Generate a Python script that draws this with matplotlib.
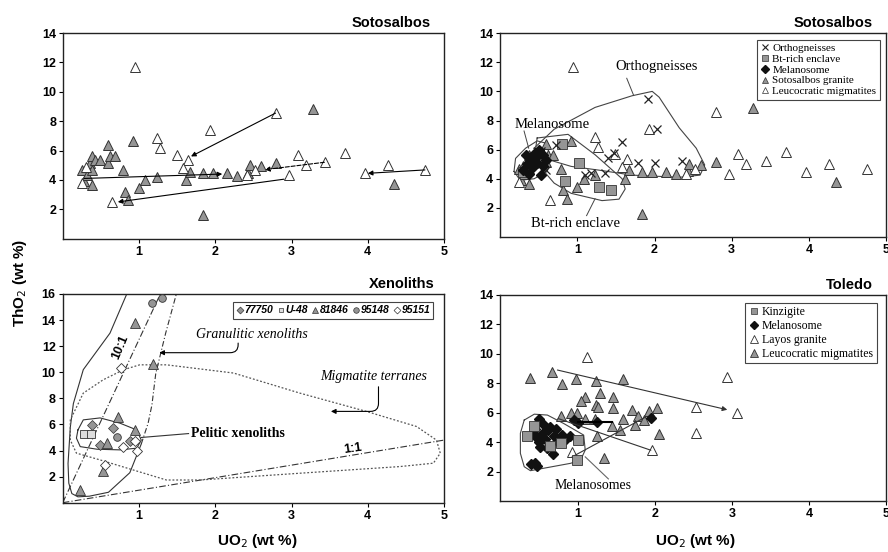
import matplotlib.pyplot as plt
from matplotlib.lines import Line2D

plt.rcParams['font.family'] = ['Liberation Sans', 'DejaVu Sans']

# ---- Sotosalbos: granite (grey) and leucocratic migmatites (white)
granite_u = [0.25, 0.27, 0.31, 0.35, 0.38, 0.38, 0.38, 0.42, 0.49, 0.59, 0.59, 0.62, 0.68,
             0.79, 0.81, 0.86, 0.92, 1.00, 1.08, 1.23, 1.62, 1.67, 1.84, 1.84, 1.97, 2.15,
             2.28, 2.43, 2.45, 2.60, 2.80, 3.28, 4.35]
granite_t = [4.70, 3.90, 4.35, 5.15, 5.60, 4.70, 3.67, 5.35, 5.37, 6.40, 5.15, 5.60, 5.60,
             4.69, 3.21, 2.64, 6.62, 3.44, 4.00, 4.23, 4.00, 4.57, 4.45, 1.60, 4.46, 4.46,
             4.30, 4.50, 5.00, 4.95, 5.18, 8.85, 3.75]
leuco_u = [0.95, 2.79, 1.93, 1.23, 1.27, 1.49, 1.64, 1.58, 0.64, 0.25, 3.08, 3.19, 3.44,
           3.70, 4.26, 3.96, 4.75, 2.41, 2.52, 2.96, 0.30]
leuco_t = [11.7, 8.55, 7.42, 6.85, 6.17, 5.71, 5.37, 4.80, 2.53, 3.78, 5.70, 5.00, 5.20,
           5.86, 5.00, 4.45, 4.70, 4.34, 4.70, 4.35, 4.90]

# arrows (start u, start t, end u, end t, dashed)
soto_arrows = [(2.79, 8.55, 1.68, 5.60, False),
               (0.28, 4.10, 2.09, 4.40, False),
               (2.90, 4.05, 0.72, 2.50, False),
               (3.43, 5.20, 2.65, 4.70, True),
               (4.75, 4.68, 4.00, 4.45, False)]

# ---- Sotosalbos: orthogneisses, Bt-rich enclave, melanosome
ortho_u = [1.91, 2.03, 1.58, 1.40, 1.47, 1.36, 1.78, 2.00, 2.35, 1.10, 1.18, 0.39, 0.53, 0.59, 0.72]
ortho_t = [9.50, 7.45, 6.50, 5.45, 5.80, 4.40, 5.10, 5.10, 5.20, 4.25, 4.40, 5.40, 5.90, 4.60, 6.30]
encl_u = [0.80, 1.02, 0.84, 1.28, 1.43, 0.29]
encl_t = [6.40, 5.10, 3.85, 3.45, 3.20, 4.45]
mel_u = [0.30, 0.35, 0.40, 0.45, 0.50, 0.55, 0.48, 0.42, 0.56, 0.38, 0.53, 0.60, 0.33, 0.46]
mel_t = [4.60, 5.00, 5.40, 5.80, 6.00, 5.60, 5.10, 4.80, 4.90, 4.30, 4.25, 5.30, 5.60, 5.50]

ortho_field_u = [0.44, 0.70, 1.23, 1.71, 1.97, 2.06, 2.32, 2.54, 2.65, 2.59, 2.32, 1.71, 1.27, 0.92, 0.57, 0.44]
ortho_field_t = [6.1, 7.4, 8.9, 9.7, 10.0, 9.6, 7.5, 6.1, 4.95, 4.25, 4.1, 4.25, 4.6, 4.85, 5.4, 6.1]
encl_field_u = [0.48, 0.88, 1.23, 1.58, 1.62, 1.54, 1.32, 0.92, 0.70, 0.57, 0.44, 0.48]
encl_field_t = [6.8, 7.05, 5.65, 4.0, 3.3, 2.6, 2.5, 3.0, 3.7, 4.5, 5.4, 6.8]
mel_field_u = [0.18, 0.20, 0.33, 0.48, 0.59, 0.66, 0.61, 0.44, 0.26, 0.18]
mel_field_t = [4.5, 5.4, 6.1, 6.6, 6.45, 5.4, 4.5, 4.0, 3.9, 4.5]

# ---- Xenoliths
s77750_u = [0.38, 0.66, 0.88, 0.49]
s77750_t = [5.97, 5.70, 4.70, 4.43]
u48_u = [0.28, 0.37]
u48_t = [5.30, 5.30]
s81846_u = [0.95, 1.19, 0.73, 0.95, 0.58, 0.53, 0.23]
s81846_t = [13.8, 10.6, 6.60, 5.60, 4.56, 2.40, 1.00]
s95148_u = [1.17, 1.30, 0.71]
s95148_t = [15.3, 15.7, 5.05]
s95151_u = [0.77, 0.79, 0.97, 0.55, 0.95]
s95151_t = [10.3, 4.30, 4.00, 2.90, 4.75]

gran_left_u = [0.84, 0.62, 0.27, 0.14, 0.10, 0.07, 0.08, 0.12, 0.20, 0.35, 0.60, 0.88, 1.03]
gran_left_t = [16.0, 13.0, 10.2, 7.6, 5.8, 3.0, 1.5, 0.7, 0.45, 0.5, 0.8, 2.3, 4.5]
gran_right_u = [1.03, 1.12, 1.17, 1.22, 1.35, 1.49]
gran_right_t = [4.5, 6.1, 7.5, 9.9, 13.0, 16.0]
migm_u = [0.80, 1.01, 1.36, 2.24, 3.11, 3.98, 4.64, 4.90, 4.95, 4.86, 4.42, 3.11, 1.80, 1.36,
          0.93, 0.49, 0.18, 0.10, 0.10, 0.27, 0.53, 0.80]
migm_t = [10.2, 10.57, 10.57, 9.94, 8.4, 7.0, 5.84, 4.8, 3.8, 3.03, 2.77, 2.26, 1.74, 1.74,
          2.5, 3.28, 3.8, 4.8, 6.35, 8.4, 9.42, 10.2]
pel_u = [0.20, 0.27, 0.49, 0.75, 0.97, 1.03, 0.97, 0.75, 0.45, 0.23, 0.18, 0.20]
pel_t = [5.58, 6.35, 6.5, 6.1, 5.58, 4.8, 4.18, 4.05, 4.1, 4.3, 4.95, 5.58]
ratio10_u = [0.0, 1.28]
ratio10_t = [0.0, 16.0]
ratio1_u = [0.0, 5.0]
ratio1_t = [0.0, 4.8]

# ---- Toledo
kinz_u = [0.44, 0.34, 0.65, 0.79, 1.00, 0.99]
kinz_t = [5.10, 4.40, 3.75, 3.96, 4.14, 2.78]
tmel_u = [0.50, 0.45, 0.55, 0.62, 0.70, 0.58, 0.48, 0.65, 0.72, 0.80, 0.85, 0.52, 0.60, 0.68,
          0.50, 0.40, 0.48, 0.45, 0.90, 0.55, 0.75, 0.42, 0.95, 1.25, 1.95, 1.00]
tmel_t = [5.60, 4.90, 4.60, 4.80, 4.40, 4.20, 4.30, 5.00, 4.90, 4.50, 4.20, 3.70, 3.60, 3.20,
          4.00, 2.50, 2.40, 2.60, 4.40, 5.20, 4.00, 4.60, 5.50, 5.40, 5.65, 5.30]
layos_u = [2.94, 2.54, 3.06, 2.53, 1.96, 1.12, 0.93]
layos_t = [8.44, 6.40, 5.95, 4.64, 3.46, 9.80, 3.35]
tleuco_u = [0.39, 0.67, 0.80, 0.98, 1.24, 1.59, 1.34, 2.03, 2.06, 1.29, 1.46, 1.10, 1.05, 1.24,
            1.46, 1.27, 0.78, 0.91, 0.99, 1.10, 1.23, 1.45, 1.59, 1.70, 1.78, 1.93, 1.55, 1.25,
            1.75, 1.86]
tleuco_t = [8.33, 8.78, 7.93, 8.26, 8.17, 8.26, 2.94, 6.30, 4.55, 7.31, 7.10, 7.10, 6.80, 6.50,
            6.30, 6.40, 5.80, 6.00, 5.95, 5.60, 5.55, 5.10, 5.60, 6.20, 5.75, 6.10, 4.85, 4.45,
            5.16, 5.50]
toledo_lines = [(0.74, 8.90, 2.94, 6.20, True),
                (0.75, 5.60, 1.95, 3.45, False),
                (0.93, 3.00, 1.88, 5.70, False)]
tmel_field_u = [0.31, 0.44, 0.61, 0.82, 1.08, 1.10, 1.04, 0.91, 0.39, 0.31, 0.26, 0.26, 0.31]
tmel_field_t = [5.5, 5.9, 5.84, 5.27, 4.48, 3.46, 2.78, 2.56, 2.06, 2.33, 3.24, 4.6, 5.5]

GREY = '#959595'
EDGE = '#333333'
serif = ['Liberation Serif', 'DejaVu Serif']

fig = plt.figure(figsize=(8.88, 5.52), dpi=100)
ax1 = fig.add_axes([0.0709, 0.5676, 0.4291, 0.3726])
ax2 = fig.add_axes([0.5632, 0.5706, 0.4347, 0.3694])
ax3 = fig.add_axes([0.0706, 0.0893, 0.4295, 0.3781])
ax4 = fig.add_axes([0.5634, 0.0924, 0.4347, 0.3732])


def style(ax, ymax):
    ax.set_xlim(0, 5)
    ax.set_ylim(0, ymax)
    ax.set_xticks([1, 2, 3, 4, 5])
    ax.set_yticks(range(2, ymax + 1, 2))
    ax.tick_params(direction='out', length=3, width=0.8, labelsize=9, pad=2)
    for lab in ax.get_xticklabels() + ax.get_yticklabels():
        lab.set_fontweight('bold')
    for sp in ax.spines.values():
        sp.set_linewidth(1.0)
        sp.set_color('#222222')


def tri(ax, u, t, fill, ms=7.5):
    ax.plot(u, t, '^', ms=ms, mfc=fill, mec=EDGE, mew=0.7, ls='none', zorder=3)


def arrow(ax, u0, t0, u1, t1, ls='-', head=True, color='k', lw=0.8):
    ax.annotate('', xy=(u1, t1), xytext=(u0, t0),
                arrowprops=dict(arrowstyle='-|>' if head else '-', lw=lw, color=color,
                                linestyle=ls, mutation_scale=7, shrinkA=0, shrinkB=0),
                zorder=4)


# panel 1
style(ax1, 14)
tri(ax1, granite_u, granite_t, GREY)
tri(ax1, leuco_u, leuco_t, 'white')
for u0, t0, u1, t1, dashed in soto_arrows:
    arrow(ax1, u0, t0, u1, t1, ls='--' if dashed else '-')
ax1.text(0.965, 1.015, 'Sotosalbos', transform=ax1.transAxes, ha='right', va='bottom',
         fontsize=10.5, fontweight='bold')

# panel 2
style(ax2, 14)
ax2.plot(ortho_field_u, ortho_field_t, color='#444444', lw=0.8, zorder=2)
ax2.plot(encl_field_u, encl_field_t, color='#444444', lw=0.8, zorder=2)
ax2.plot(mel_field_u, mel_field_t, color='#444444', lw=0.8, zorder=2)
tri(ax2, granite_u, granite_t, GREY)
tri(ax2, leuco_u, leuco_t, 'white')
ax2.plot(encl_u, encl_t, 's', ms=6.5, mfc=GREY, mec=EDGE, mew=0.6, ls='none', zorder=3)
ax2.plot(ortho_u, ortho_t, 'x', ms=6, mec='#222222', mew=0.9, ls='none', zorder=4)
ax2.plot(mel_u, mel_t, 'D', ms=5, mfc='#111111', mec='#111111', ls='none', zorder=4)
ax2.plot([1.64, 1.73], [10.9, 9.72], color='#444444', lw=0.7)
ax2.plot([0.31, 0.37], [7.28, 6.1], color='#444444', lw=0.7)
ax2.plot([1.23, 1.12], [2.63, 1.47], color='#444444', lw=0.7)
ax2.text(2.02, 11.7, 'Orthogneisses', family=serif, fontsize=10.5, ha='center', va='center')
ax2.text(0.67, 7.7, 'Melanosome', family=serif, fontsize=10.5, ha='center', va='center')
ax2.text(0.97, 0.9, 'Bt-rich enclave', family=serif, fontsize=10.5, ha='center', va='center')
h2 = [Line2D([], [], marker='x', ls='none', mec='#222222', ms=5, mew=0.8),
      Line2D([], [], marker='s', ls='none', mfc=GREY, mec=EDGE, ms=4.5, mew=0.5),
      Line2D([], [], marker='D', ls='none', mfc='#111111', mec='#111111', ms=4),
      Line2D([], [], marker='^', ls='none', mfc=GREY, mec=EDGE, ms=5, mew=0.5),
      Line2D([], [], marker='^', ls='none', mfc='white', mec=EDGE, ms=5, mew=0.5)]
lg = ax2.legend(h2, ['Orthogneisses', 'Bt-rich enclave', 'Melanosome', 'Sotosalbos granite',
                     'Leucocratic migmatites'],
                loc='upper right', bbox_to_anchor=(0.998, 0.995), prop={'family': serif, 'size': 8},
                handlelength=0.8, handletextpad=0.3, labelspacing=0.1, borderpad=0.3,
                fancybox=False, edgecolor='#444444', framealpha=1)
lg.get_frame().set_linewidth(0.8)
ax2.text(0.965, 1.015, 'Sotosalbos', transform=ax2.transAxes, ha='right', va='bottom',
         fontsize=10.5, fontweight='bold')

# panel 3
style(ax3, 16)
ax3.plot(ratio10_u, ratio10_t, color='#333333', lw=0.8, ls=(0, (6, 2, 1, 2)))
ax3.plot(ratio1_u, ratio1_t, color='#333333', lw=0.8, ls=(0, (6, 2, 1, 2)))
ax3.plot(gran_left_u, gran_left_t, color='#333333', lw=0.8)
ax3.plot(gran_right_u, gran_right_t, color='#333333', lw=0.8, ls=(0, (5, 2, 1, 2)))
ax3.plot(migm_u, migm_t, color='#555555', lw=0.9, ls=(0, (1.5, 1.5)))
ax3.plot(pel_u, pel_t, color='#333333', lw=0.8)
ax3.plot(s77750_u, s77750_t, 'D', ms=5, mfc=GREY, mec=EDGE, mew=0.5, ls='none', zorder=3)
ax3.plot(u48_u, u48_t, 's', ms=5.5, mfc='#dddddd', mec=EDGE, mew=0.6, ls='none', zorder=3)
ax3.plot(s81846_u, s81846_t, '^', ms=6.5, mfc=GREY, mec=EDGE, mew=0.6, ls='none', zorder=3)
ax3.plot(s95148_u, s95148_t, 'o', ms=5.5, mfc=GREY, mec=EDGE, mew=0.6, ls='none', zorder=3)
ax3.plot(s95151_u, s95151_t, 'D', ms=5, mfc='white', mec=EDGE, mew=0.6, ls='none', zorder=3)
ax3.plot([1.03, 1.65], [5.0, 5.3], color='#333333', lw=0.8)
ax3.text(1.68, 5.3, 'Pelitic xenoliths', family=serif, fontsize=10, fontweight='bold',
         ha='left', va='center')
ax3.text(2.48, 12.9, 'Granulitic xenoliths', family=serif, fontsize=10, style='italic',
         ha='center', va='center')
ax3.annotate('', xy=(1.23, 11.5), xytext=(2.3, 12.45),
             arrowprops=dict(arrowstyle='-|>', lw=0.8, color='k', mutation_scale=7,
                             connectionstyle='angle,angleA=-90,angleB=0,rad=8'))
ax3.text(4.07, 9.68, 'Migmatite terranes', family=serif, fontsize=10, style='italic',
         ha='center', va='center')
ax3.annotate('', xy=(3.48, 7.0), xytext=(4.14, 9.1),
             arrowprops=dict(arrowstyle='-|>', lw=0.8, color='k', mutation_scale=7,
                             connectionstyle='angle,angleA=-90,angleB=0,rad=8'))
ax3.text(0.76, 11.9, '10:1', fontsize=9, fontweight='bold', rotation=67, ha='center', va='center')
ax3.text(3.8, 4.15, '1:1', fontsize=9, fontweight='bold', rotation=8, ha='center', va='center')
h3 = [Line2D([], [], marker='D', ls='none', mfc=GREY, mec=EDGE, ms=3.5, mew=0.5),
      Line2D([], [], marker='s', ls='none', mfc='#dddddd', mec=EDGE, ms=3.5, mew=0.5),
      Line2D([], [], marker='^', ls='none', mfc=GREY, mec=EDGE, ms=4, mew=0.5),
      Line2D([], [], marker='o', ls='none', mfc=GREY, mec=EDGE, ms=4, mew=0.5),
      Line2D([], [], marker='D', ls='none', mfc='white', mec=EDGE, ms=3.5, mew=0.5)]
lg3 = ax3.legend(h3, ['77750', 'U-48', '81846', '95148', '95151'], ncol=5, loc='upper right',
                 bbox_to_anchor=(0.985, 0.985),
                 prop={'size': 7.5, 'weight': 'bold', 'style': 'italic'},
                 handlelength=0.7, handletextpad=0.1, columnspacing=0.35, borderpad=0.3,
                 fancybox=False, edgecolor='#444444', framealpha=1)
lg3.get_frame().set_linewidth(0.8)
ax3.text(0.975, 1.015, 'Xenoliths', transform=ax3.transAxes, ha='right', va='bottom',
         fontsize=10.5, fontweight='bold')

# panel 4
style(ax4, 14)
ax4.plot(tmel_field_u, tmel_field_t, color='#444444', lw=0.8, zorder=2)
tri(ax4, tleuco_u, tleuco_t, GREY)
tri(ax4, layos_u, layos_t, 'white')
ax4.plot(tmel_u, tmel_t, 'D', ms=5.5, mfc='#111111', mec='#111111', ls='none', zorder=4)
ax4.plot(kinz_u, kinz_t, 's', ms=6.5, mfc=GREY, mec=EDGE, mew=0.6, ls='none', zorder=5)
for u0, t0, u1, t1, head in toledo_lines:
    arrow(ax4, u0, t0, u1, t1, head=head, color='#333333')
ax4.plot([1.0, 1.45], [5.4, 5.4], color='k', lw=1.5, zorder=5)
ax4.plot([1.1, 1.4], [3.0, 1.5], color='#666666', lw=0.8)
ax4.text(1.2, 1.05, 'Melanosomes', family=serif, fontsize=10, ha='center', va='center')
h4 = [Line2D([], [], marker='s', ls='none', mfc=GREY, mec=EDGE, ms=4.5, mew=0.5),
      Line2D([], [], marker='D', ls='none', mfc='#111111', mec='#111111', ms=4),
      Line2D([], [], marker='^', ls='none', mfc='white', mec=EDGE, ms=6, mew=0.6),
      Line2D([], [], marker='^', ls='none', mfc=GREY, mec=EDGE, ms=6, mew=0.6)]
lg4 = ax4.legend(h4, ['Kinzigite', 'Melanosome', 'Layos granite', 'Leucocratic migmatites'],
                 loc='upper right', bbox_to_anchor=(0.99, 0.99), prop={'family': serif, 'size': 8.5},
                 handlelength=0.8, handletextpad=0.3, labelspacing=0.15, borderpad=0.3,
                 fancybox=False, edgecolor='#444444', framealpha=1)
lg4.get_frame().set_linewidth(0.8)
ax4.text(0.965, 1.015, 'Toledo', transform=ax4.transAxes, ha='right', va='bottom',
         fontsize=10.5, fontweight='bold')

fig.text(0.022, 0.487, 'ThO$_2$ (wt %)', rotation=90, ha='center', va='center',
         fontsize=11, fontweight='bold')
fig.text(0.29, 0.02, 'UO$_2$ (wt %)', ha='center', va='center', fontsize=11, fontweight='bold')
fig.text(0.783, 0.02, 'UO$_2$ (wt %)', ha='center', va='center', fontsize=11, fontweight='bold')

fig.savefig('out.png', dpi=100)
